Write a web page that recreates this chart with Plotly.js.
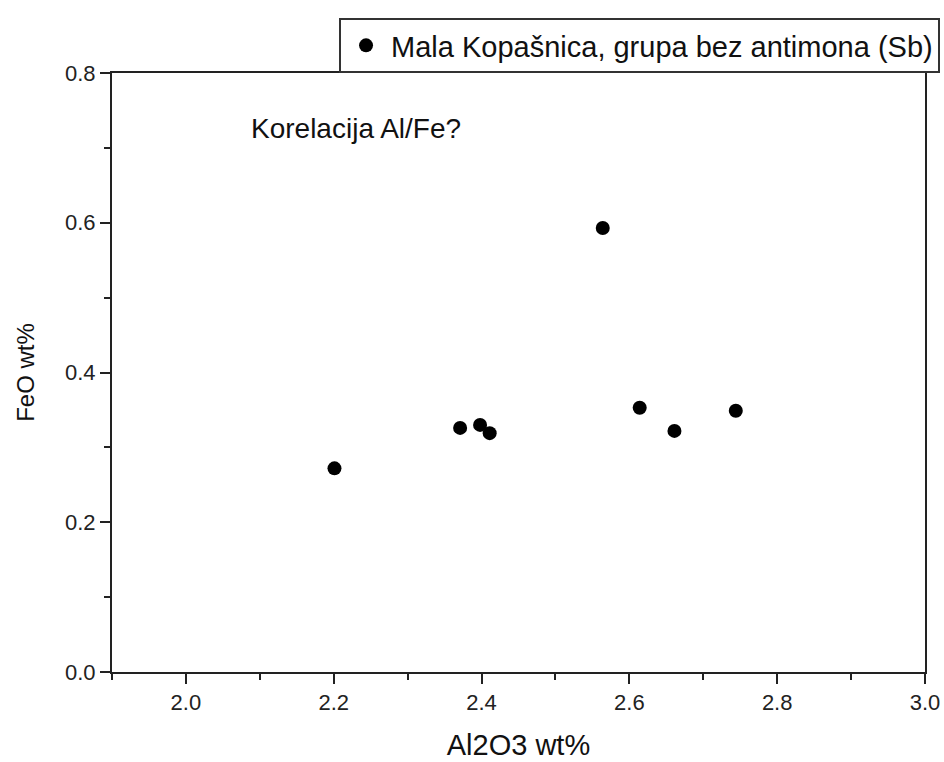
<!DOCTYPE html>
<html>
<head>
<meta charset="utf-8">
<script src="https://cdn.plot.ly/plotly-3.0.1.min.js"></script>
<style>html,body{margin:0;padding:0;background:#fff;}#chart{width:944px;height:762px;}</style>
</head>
<body>
<div id="chart"></div>
<script>
const seriesName = "Mala Kopašnica, grupa bez antimona (Sb)";
const al2o3 = [2.201, 2.371, 2.398, 2.411, 2.564, 2.614, 2.661, 2.744];
const feo   = [0.272, 0.326, 0.330, 0.319, 0.593, 0.353, 0.322, 0.349];
const xTickVals = [2.0, 2.2, 2.4, 2.6, 2.8, 3.0];
const xTickText = ["2.0", "2.2", "2.4", "2.6", "2.8", "3.0"];
const yTickVals = [0.0, 0.2, 0.4, 0.6, 0.8];
const yTickText = ["0.0", "0.2", "0.4", "0.6", "0.8"];
const noteText = "Korelacija Al/Fe?";

const FONT = "Liberation Sans, Arial, Helvetica, sans-serif";
const AX = "#222";

const trace = {
  x: al2o3, y: feo, type: "scatter", mode: "markers", name: seriesName,
  marker: {color: "#000", size: 14, line: {width: 0}}
};

const axisCommon = {
  showline: true, linecolor: AX, linewidth: 2, mirror: true,
  ticks: "outside", ticklen: 10, tickwidth: 2, tickcolor: AX,
  showgrid: false, zeroline: false,
  tickfont: {family: FONT, size: 22, color: "#222"},
  minor: {ticks: "outside", ticklen: 6, tickwidth: 2, tickcolor: AX, showgrid: false}
};

const layout = {
  width: 944, height: 762,
  margin: {l: 112, r: 19, t: 73, b: 90, autoexpand: false},
  paper_bgcolor: "#fff", plot_bgcolor: "#fff",
  font: {family: FONT, color: "#111"},
  showlegend: true,
  legend: {
    x: 1.0185, xanchor: "right", y: 1, yanchor: "bottom",
    bordercolor: "#333", borderwidth: 2, bgcolor: "#fff",
    itemwidth: 40,
    font: {family: FONT, size: 29, color: "#111"}
  },
  xaxis: Object.assign({}, axisCommon, {
    range: [1.9, 3.0], tickvals: xTickVals, ticktext: xTickText,
    minor: Object.assign({}, axisCommon.minor, {dtick: 0.1, tick0: 1.9}),
    title: {text: "Al2O3 wt%", font: {family: FONT, size: 29, color: "#111"}, standoff: 20}
  }),
  yaxis: Object.assign({}, axisCommon, {
    range: [0, 0.8], tickvals: yTickVals, ticktext: yTickText,
    minor: Object.assign({}, axisCommon.minor, {dtick: 0.1, tick0: 0}),
    title: {text: "FeO wt%", font: {family: FONT, size: 24, color: "#111"}, standoff: 24}
  }),
  annotations: [{
    xref: "paper", yref: "paper", x: 0.1685, y: 0.908,
    xanchor: "left", yanchor: "middle", showarrow: false,
    text: noteText, font: {family: FONT, size: 28, color: "#111"}
  }]
};

Plotly.newPlot("chart", [trace], layout, {displayModeBar: false, staticPlot: true});
</script>
</body>
</html>
